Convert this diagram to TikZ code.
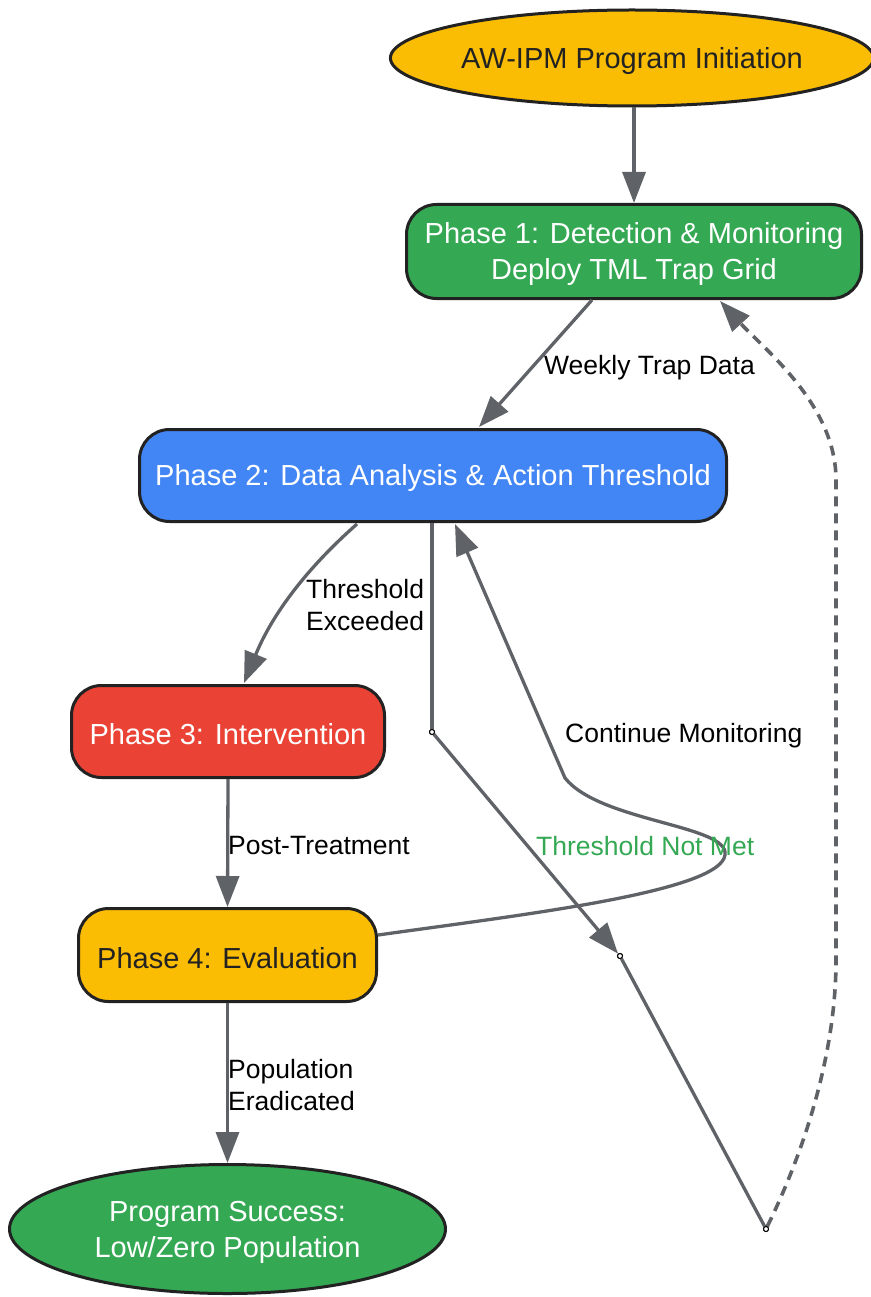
\documentclass[tikz,border=0pt]{standalone}
\usepackage{fontspec}
\setmainfont{Liberation Sans}
\usetikzlibrary{shapes.geometric,arrows.meta,calc}
\definecolor{cyellow}{HTML}{FBBC04}
\definecolor{cgreen}{HTML}{34A853}
\definecolor{cblue}{HTML}{4285F4}
\definecolor{cred}{HTML}{EA4335}
\definecolor{cborder}{HTML}{222222}
\definecolor{cedge}{HTML}{5F6368}
\definecolor{cdark}{HTML}{222222}
\newcommand\nodefont{\fontsize{29}{36}\selectfont}
\newcommand\lblfont{\fontsize{26.5}{32}\selectfont}
\newcommand\dn{\rule{0pt}{27pt}}
\tikzset{
  base/.style={draw=cborder, line width=3pt, align=center, font=\nodefont, inner sep=0pt},
  rbox/.style={base, rectangle, rounded corners=30pt},
  ell/.style={base, ellipse},
  arr/.style={draw=cedge, line width=3.3pt, -{Triangle[length=31pt,width=23pt]}},
  plain/.style={draw=cedge, line width=3.3pt},
  lbl/.style={font=\lblfont, align=left, anchor=west, inner sep=0pt, text=black},
  junc/.style={circle, draw=black, fill=white, line width=1pt, minimum size=5pt, inner sep=0pt}
}
\begin{document}
\begin{tikzpicture}[x=1pt, y=-1pt]
\useasboundingbox (0,0) rectangle (870,1297);
% nodes
\node[ell, fill=cyellow, text=cdark, minimum width=474, minimum height=96] (start) at (632,58) {\dn AW-IPM Program Initiation};
\node[rbox, fill=cgreen, text=white, minimum width=455, minimum height=94] (p1) at (634,251.5) {\dn Phase 1: Detection \& Monitoring\\Deploy TML Trap Grid};
\node[rbox, fill=cblue, text=white, minimum width=587, minimum height=92] (p2) at (433,475.5) {\dn Phase 2: Data Analysis \& Action Threshold};
\node[rbox, fill=cred, text=white, minimum width=313, minimum height=92] (p3) at (228,731.5) {\dn Phase 3: Intervention};
\node[rbox, fill=cyellow, text=cdark, minimum width=298, minimum height=93] (p4) at (227.5,955) {\dn Phase 4: Evaluation};
\node[ell, fill=cgreen, text=white, minimum width=436, minimum height=129] (end) at (227.5,1229) {\dn Program Success:\\Low/Zero Population};
% junctions
\node[junc] (j1) at (432,732) {};
\node[junc] (j2) at (620,956) {};
\node[junc] (j3) at (766,1229) {};
% edges
\draw[arr] (start.south -| p1.north) -- (p1.north);
\draw[arr] ($(p1.south)+(-42,0)$) -- ($(p2.north)+(46,-1)$);
\draw[arr] ($(p2.south)+(-76,1)$) .. controls (305,570) and (272,615) .. ($(p3.north)+(16,-1)$);
\draw[arr] (p3.south) -- (p4.north);
\draw[arr] (p4.south) -- (end.north);
\draw[plain] (p2.south -| j1) -- (j1);
\draw[arr] (j1) -- (j2);
\draw[plain] (j2) -- (j3);
\draw[arr, line width=3.6pt, dash pattern=on 10pt off 7pt] (j3) .. controls (800,1160) and (836,1060) .. (836,960) -- (836,480) .. controls (836,405) and (765,350) .. ($(p1.south)+(86,1)$);
\draw[arr] ($(p4.east)+(0,-20)$) .. controls (520,915) and (720,892) .. (725,855) .. controls (730,825) and (600,822) .. (565,778) -- ($(p2.south)+(22,1)$);
% redraw junctions on top
\node[junc] at (j1) {};
\node[junc] at (j2) {};
\node[junc] at (j3) {};
% labels
\node[lbl] (l1) at (544,368) {Weekly Trap Data};
\node[lbl] (l2) at (306,605) {Threshold\\Exceeded};
\node[lbl] (l3) at (228,846) {Post-Treatment};
\node[lbl] (l4) at (228,1085) {Population\\Eradicated};
\node[lbl] (l5) at (565,736) {Continue Monitoring};
\node[lbl, text=cgreen] (l6) at (536,846) {Threshold Not Met};
\end{tikzpicture}
\end{document}
